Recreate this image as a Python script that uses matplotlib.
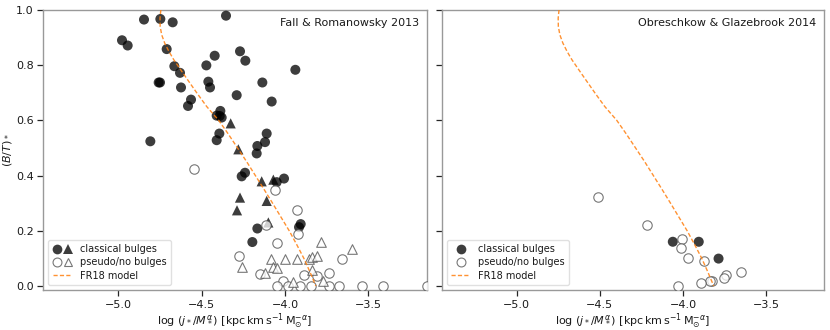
import matplotlib
matplotlib.use("Agg")
import matplotlib.pyplot as plt
from matplotlib.lines import Line2D
from matplotlib.legend_handler import HandlerTuple

# ---------------- data ----------------
# Fall & Romanowsky 2013 panel
fr_cb_circ_x = [-4.846, -4.748, -4.674, -4.354, -4.978, -4.944, -4.710, -4.270, -4.422, -4.238,
                -4.664, -4.472, -4.630, -3.938, -4.758, -4.750, -4.460, -4.450, -4.624, -4.136,
                -4.290, -4.564, -4.582, -4.080, -4.388, -4.392, -4.380, -4.410, -4.394, -4.410,
                -4.808, -4.110, -4.120, -4.166, -4.170, -4.240, -4.260, -4.006, -4.050, -3.906,
                -3.916, -4.166, -4.196]
fr_cb_circ_y = [0.965, 0.967, 0.955, 0.979, 0.890, 0.871, 0.858, 0.850, 0.834, 0.816,
                0.796, 0.799, 0.772, 0.783, 0.737, 0.737, 0.740, 0.719, 0.719, 0.737,
                0.691, 0.675, 0.652, 0.668, 0.634, 0.616, 0.610, 0.617, 0.552, 0.528,
                0.524, 0.552, 0.521, 0.507, 0.480, 0.410, 0.397, 0.389, 0.376, 0.224,
                0.213, 0.208, 0.159]
fr_cb_tri_x = [-4.326, -4.280, -4.140, -4.070, -4.270, -4.110, -4.288, -4.100]
fr_cb_tri_y = [0.589, 0.495, 0.379, 0.385, 0.320, 0.308, 0.274, 0.230]
fr_pb_circ_x = [-4.548, -4.058, -4.116, -3.930, -3.924, -4.050, -4.274, -3.656, -4.150, -4.010,
                -3.886, -3.810, -3.734, -4.050, -3.980, -3.910, -3.842, -3.734, -3.674, -3.536,
                -3.410, -3.150]
fr_pb_circ_y = [0.424, 0.349, 0.219, 0.276, 0.187, 0.155, 0.108, 0.099, 0.044, 0.018,
                0.040, 0.036, 0.046, 0.0, 0.0, 0.0, 0.0, 0.0, 0.0, 0.0,
                0.0, 0.0]
fr_pb_tri_x = [-3.784, -3.600, -4.086, -4.000, -3.930, -3.856, -3.840, -3.810, -4.074, -4.046,
               -4.120, -3.840, -3.954, -3.770, -4.256]
fr_pb_tri_y = [0.159, 0.133, 0.097, 0.097, 0.098, 0.098, 0.104, 0.107, 0.070, 0.064,
               0.046, 0.056, 0.016, 0.018, 0.070]

# Obreschkow & Glazebrook 2014 panel
og_cb_x = [-4.061, -3.905, -3.786]
og_cb_y = [0.160, 0.160, 0.099]
og_pb_x = [-4.512, -4.214, -4.007, -4.010, -3.970, -3.874, -3.650, -3.740, -3.754, -3.824,
           -3.838, -3.894, -4.028]
og_pb_y = [0.321, 0.221, 0.170, 0.139, 0.101, 0.090, 0.050, 0.040, 0.030, 0.019,
           0.017, 0.010, 0.0]

# FR18 model curve
model_x = [-4.745, -4.750, -4.749, -4.740, -4.722, -4.697, -4.668, -4.634, -4.588, -4.530,
           -4.470, -4.398, -4.340, -4.285, -4.230, -4.178, -4.126, -4.075, -4.025, -3.975,
           -3.930, -3.887, -3.850, -3.815]
model_y = [1.00, 0.97, 0.94, 0.91, 0.88, 0.85, 0.82, 0.79, 0.75, 0.70,
           0.65, 0.60, 0.55, 0.50, 0.45, 0.40, 0.35, 0.30, 0.25, 0.20,
           0.15, 0.10, 0.05, 0.00]

panel_titles = ["Fall & Romanowsky 2013", "Obreschkow & Glazebrook 2014"]
xticks = [-5.0, -4.5, -4.0, -3.5]
xticklabels = ['\u22125.0', '\u22124.5', '\u22124.0', '\u22123.5']
yticks = [0.0, 0.2, 0.4, 0.6, 0.8, 1.0]

# ---------------- style ----------------
FILL = 'k'
ALPHA = 0.76
OPEN_EDGE = '0.3'
S_C = 52
S_T = 54

fig = plt.figure(figsize=(8.3, 3.3), dpi=100)
ax1 = fig.add_axes([0.0522, 0.121, 0.4619, 0.849])
ax2 = fig.add_axes([0.5322, 0.121, 0.4610, 0.849])

def style(ax):
    for s in ax.spines.values():
        s.set_color('0.6')
        s.set_linewidth(1.0)
    ax.tick_params(direction='out', length=4.5, width=0.9, color='0.15',
                   labelsize=8, labelcolor='0.1', pad=2.5)
    ax.set_xlim(-5.45, -3.15)
    ax.set_ylim(-0.015, 1.0)
    ax.set_xticks(xticks)
    ax.set_xticklabels(xticklabels)
    ax.set_yticks(yticks)
    ax.set_xlabel(r'$\log\,(j_*/M_*^{\alpha})$ [kpc$\,$km$\,$s$^{-1}\,$M$_{\odot}^{-\alpha}$]',
                  fontsize=8, labelpad=1, color='0.1')

style(ax1)
style(ax2)
ax2.set_yticklabels([])
ax1.set_ylabel(r'$(B/T)_*$', fontsize=8, labelpad=1, color='0.1')

def filled(ax, x, y, m, s):
    return ax.scatter(x, y, s=s, marker=m, c=FILL, alpha=ALPHA, edgecolors='none', zorder=3)

def opened(ax, x, y, m, s):
    return ax.scatter(x, y, s=s, marker=m, facecolors='white', edgecolors=OPEN_EDGE,
                      linewidths=0.8, alpha=ALPHA, zorder=3)

# left panel
filled(ax1, fr_cb_circ_x, fr_cb_circ_y, 'o', S_C)
filled(ax1, fr_cb_tri_x, fr_cb_tri_y, '^', S_T)
opened(ax1, fr_pb_circ_x, fr_pb_circ_y, 'o', S_C - 6)
opened(ax1, fr_pb_tri_x, fr_pb_tri_y, '^', S_T - 6)
ax1.plot(model_x, model_y, ls='--', color='#ff7f0e', lw=1.0, alpha=0.85, zorder=4,
         dashes=(3, 1.6))

# right panel
filled(ax2, og_cb_x, og_cb_y, 'o', S_C)
opened(ax2, og_pb_x, og_pb_y, 'o', S_C - 6)
ax2.plot(model_x, model_y, ls='--', color='#ff7f0e', lw=1.0, alpha=0.85, zorder=4,
         dashes=(3, 1.6))

for ax, t in zip([ax1, ax2], panel_titles):
    ax.text(0.98, 0.955, t, transform=ax.transAxes, ha='right', va='center',
            fontsize=8, color='0.1')

# legends
ms = 7.0
h_fc = Line2D([], [], marker='o', ls='none', color=FILL, alpha=ALPHA, markeredgewidth=0, markersize=ms)
h_ft = Line2D([], [], marker='^', ls='none', color=FILL, alpha=ALPHA, markeredgewidth=0, markersize=ms)
h_oc = Line2D([], [], marker='o', ls='none', markerfacecolor='white', markeredgecolor=OPEN_EDGE,
              alpha=ALPHA, markeredgewidth=0.8, markersize=ms - 0.6)
h_ot = Line2D([], [], marker='^', ls='none', markerfacecolor='white', markeredgecolor=OPEN_EDGE,
              alpha=ALPHA, markeredgewidth=0.8, markersize=ms - 0.6)
h_m = Line2D([], [], ls='--', color='#ff7f0e', lw=1.0, alpha=0.85, dashes=(3, 1.6))

leg1 = ax1.legend([(h_fc, h_ft), (h_oc, h_ot), h_m],
                  ['classical bulges', 'pseudo/no bulges', 'FR18 model'],
                  handler_map={tuple: HandlerTuple(ndivide=None, pad=0.2)},
                  loc='lower left', fontsize=7, frameon=True, handlelength=2.0,
                  labelspacing=0.35, borderpad=0.45, handletextpad=0.8)
leg2 = ax2.legend([h_fc, h_oc, h_m],
                  ['classical bulges', 'pseudo/no bulges', 'FR18 model'],
                  loc='lower left', fontsize=7, frameon=True, handlelength=2.0,
                  labelspacing=0.35, borderpad=0.45, handletextpad=0.8)
for lg in (leg1, leg2):
    lg.get_frame().set_edgecolor('0.85')
    lg.get_frame().set_alpha(0.8)
    for t in lg.get_texts():
        t.set_color('0.1')

fig.savefig('out.png', dpi=100)
